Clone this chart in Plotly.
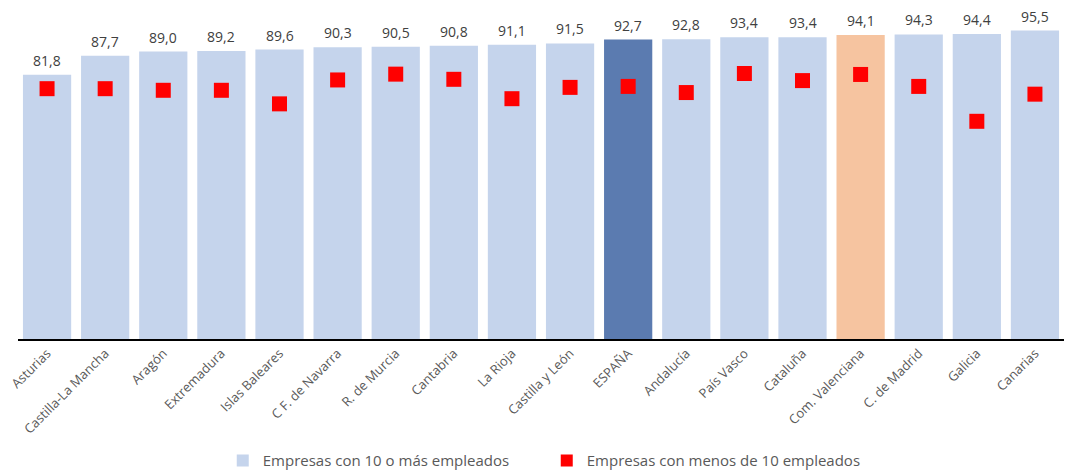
import plotly.graph_objects as go

regiones = [
    "Asturias", "Castilla-La Mancha", "Aragón", "Extremadura", "Islas Baleares",
    "C F. de Navarra", "R. de Murcia", "Cantabria", "La Rioja", "Castilla y León",
    "ESPAÑA", "Andalucía", "País Vasco", "Cataluña", "Com. Valenciana",
    "C. de Madrid", "Galicia", "Canarias",
]
mas_10 = [81.8, 87.7, 89.0, 89.2, 89.6, 90.3, 90.5, 90.8, 91.1, 91.5,
          92.7, 92.8, 93.4, 93.4, 94.1, 94.3, 94.4, 95.5]
menos_10 = [77.5, 77.5, 77.0, 77.0, 72.8, 80.2, 82.0, 80.4, 74.4, 77.9,
            78.2, 76.3, 82.2, 80.0, 81.9, 78.2, 67.4, 75.8]

# colour highlights: Spain total and Valencia
bar_colors = []
for r in regiones:
    if r == "ESPAÑA":
        bar_colors.append("#5B7BB0")
    elif r == "Com. Valenciana":
        bar_colors.append("#F6C4A0")
    else:
        bar_colors.append("#C5D4EC")

fig = go.Figure()
fig.add_trace(go.Bar(
    x=regiones, y=mas_10,
    name="Empresas con 10 o más empleados",
    marker=dict(color=bar_colors, line=dict(width=0)),
))
fig.add_trace(go.Scatter(
    x=regiones, y=menos_10,
    name="Empresas con menos de 10 empleados",
    mode="markers",
    marker=dict(symbol="square", size=15, color="#FF0000"),
))

# value labels a bit higher above the bars than plotly's outside text
for reg, val in zip(regiones, mas_10):
    fig.add_annotation(
        x=reg, y=val, text=f"{val:.1f}".replace(".", ","),
        showarrow=False, yanchor="bottom", yshift=3,
        font=dict(size=14, color="#404040"),
    )

# page body adds an 8px offset, so the figure is sized to end at the window edge
fig.update_layout(
    width=1069, height=464,
    margin=dict(l=10, r=13, t=8, b=133, autoexpand=False),
    paper_bgcolor="white",
    plot_bgcolor="white",
    font=dict(family="Open Sans", size=13, color="#595959"),
    bargap=0.17,
    showlegend=True,
    legend=dict(
        orientation="h", x=0.5055, xanchor="center", y=-0.377, yanchor="middle",
        font=dict(size=15, color="#595959"), entrywidth=279, itemwidth=30,
        itemsizing="constant", traceorder="normal",
    ),
)
fig.update_xaxes(
    range=[-0.5, 17.5],
    tickangle=-45, showline=True, linecolor="black", linewidth=1.5,
    ticks="", tickfont=dict(size=13, color="#595959"), automargin=False,
)
fig.update_yaxes(range=[0, 100], visible=False, showgrid=False, automargin=False)

fig.write_html("out.html")
